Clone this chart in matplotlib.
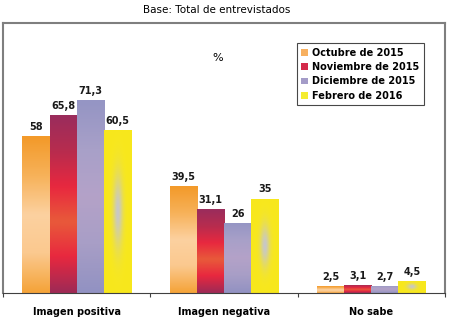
import numpy as np
import matplotlib
matplotlib.use("Agg")
import matplotlib.pyplot as plt
from matplotlib.colors import LinearSegmentedColormap
from matplotlib.patches import Patch

categorias = ["Imagen positiva", "Imagen negativa", "No sabe"]
series = ["Octubre de 2015", "Noviembre de 2015", "Diciembre de 2015", "Febrero de 2016"]
octubre = [58, 39.5, 2.5]
noviembre = [65.8, 31.1, 3.1]
diciembre = [71.3, 26, 2.7]
febrero = [60.5, 35, 4.5]
valores = [octubre, noviembre, diciembre, febrero]
etiquetas = [["58", "39,5", "2,5"], ["65,8", "31,1", "3,1"],
             ["71,3", "26", "2,7"], ["60,5", "35", "4,5"]]

# vertical colour ramps (top -> bottom) for each series
rampas = [
    ["#f39a2a", "#f7b25a", "#fcd1a0", "#fbc98f", "#f5a43a"],
    ["#9b2d5c", "#b82c4e", "#e8283f", "#e85a3a", "#e8283f", "#a02a55"],
    ["#9595c4", "#a8a0c8", "#b4a2c8", "#a89ec6", "#9292c2"],
]
leyenda_col = ["#f7b060", "#d42a4a", "#a49cc8", "#f4ec30"]

fig = plt.figure(figsize=(4.5, 3.24), dpi=100)
ax = fig.add_axes([3 / 450, 31 / 324, 442 / 450, 270 / 324])

ancho = 0.184
for s in range(4):
    for i, v in enumerate(valores[s]):
        x0 = i + (s - 2) * ancho
        rect = plt.Rectangle((x0, 0), ancho, v, facecolor="none", edgecolor="none")
        ax.add_patch(rect)
        yy = np.linspace(0, 1, 60)[:, None]
        if s == 3:
            # yellow bar with a grey haze in the centre
            xx = np.linspace(-1, 1, 40)[None, :]
            g = np.exp(-(xx / 0.35) ** 2) * np.exp(-((yy - 0.5) / 0.22) ** 2)
            amarillo = np.array([248, 232, 28]) / 255
            gris = np.array([200, 200, 200]) / 255
            img = amarillo * (1 - g[..., None]) + gris * g[..., None]
            im = ax.imshow(img, extent=(x0, x0 + ancho, 0, v), aspect="auto",
                           origin="upper", interpolation="bilinear")
        else:
            cmap = LinearSegmentedColormap.from_list("r%d" % s, rampas[s])
            im = ax.imshow(np.repeat(yy, 2, axis=1), cmap=cmap, extent=(x0, x0 + ancho, 0, v),
                           aspect="auto", origin="upper", interpolation="bilinear")
        im.set_clip_path(rect)
        ax.text(x0 + ancho / 2, v + 1.5, etiquetas[s][i], ha="center", va="bottom",
                fontsize=7, fontweight="bold", color="#1a1a1a")

ax.set_xlim(-0.5, 2.5)
ax.set_ylim(0, 100)
ax.set_xticks([-0.5, 0.5, 1.5, 2.5])
ax.set_xticklabels([])
ax.set_xticks([0, 1, 2], minor=True)
ax.set_xticklabels(categorias, minor=True, fontsize=7, fontweight="bold")
ax.tick_params(axis="x", which="major", length=3, color="#404040")
ax.tick_params(axis="x", which="minor", length=0, pad=10)
ax.set_yticks([])
for lado in ["left", "right", "top"]:
    ax.spines[lado].set_color("#7f7f7f")
    ax.spines[lado].set_linewidth(1.5)
ax.spines["bottom"].set_color("#404040")
ax.spines["bottom"].set_linewidth(0.8)

fig.text(217 / 450, 1 - 10 / 324, "Base: Total de entrevistados", ha="center", va="center",
         fontsize=7.5)
ax.text(0.485, 0.87, "%", transform=ax.transAxes, ha="center", va="center", fontsize=8)

manejadores = [Patch(facecolor=c, edgecolor="none") for c in leyenda_col]
ley = ax.legend(manejadores, series, loc="upper right", bbox_to_anchor=(0.952, 0.925),
                prop={"size": 7, "weight": "bold"}, frameon=True, fancybox=False,
                handlelength=0.7, handleheight=0.7, handletextpad=0.4, borderpad=0.45,
                labelspacing=0.45, edgecolor="#1a1a1a", borderaxespad=0)
ley.get_frame().set_linewidth(0.8)

fig.savefig("out.png", dpi=100)
